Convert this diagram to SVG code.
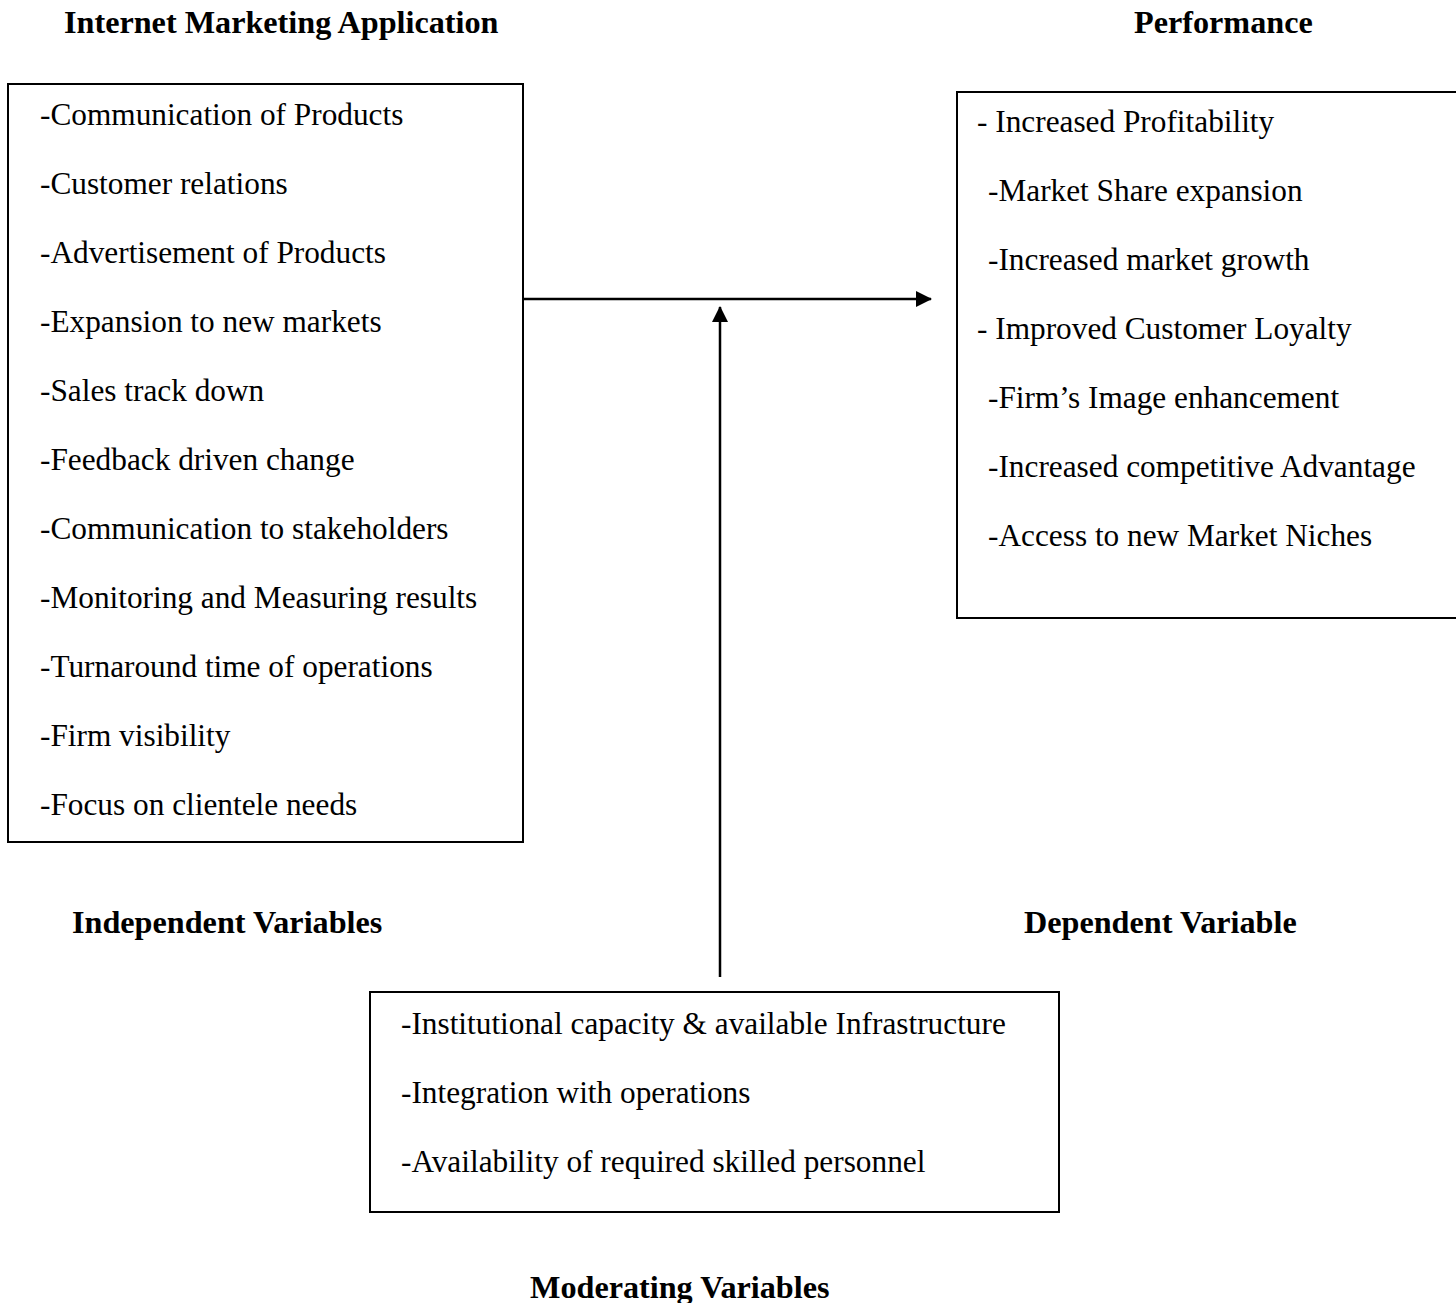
<svg xmlns="http://www.w3.org/2000/svg" width="1456" height="1303" viewBox="0 0 1456 1303">
<style>
.box{fill:#fff;stroke:#000;stroke-width:2}
.t{font-family:"Liberation Serif","Times New Roman",serif;font-size:31.3px;fill:#000}
.h{font-family:"Liberation Serif","Times New Roman",serif;font-size:32.2px;font-weight:bold;fill:#000}
.c{stroke:#000;stroke-width:2.5;fill:none}
</style>
<defs>
<marker id="ah" markerWidth="16" markerHeight="16" refX="15" refY="8" orient="auto" markerUnits="userSpaceOnUse">
<path d="M0,0 L16,8 L0,16 Z" fill="#000"/>
</marker>
</defs>
<rect width="1456" height="1303" fill="#fff"/>
<g id="labels">
<text class="h" x="64" y="33">Internet Marketing Application</text>
<text class="h" x="1134" y="33">Performance</text>
<text class="h" x="72" y="933">Independent Variables</text>
<text class="h" x="1024" y="933">Dependent Variable</text>
<text class="h" x="530" y="1298">Moderating Variables</text>
</g>
<g id="independent">
<rect class="box" x="8" y="84" width="515" height="758"/>
<text class="t" x="40" y="125">-Communication of Products</text>
<text class="t" x="40" y="194">-Customer relations</text>
<text class="t" x="40" y="263">-Advertisement of Products</text>
<text class="t" x="40" y="332">-Expansion to new markets</text>
<text class="t" x="40" y="401">-Sales track down</text>
<text class="t" x="40" y="470">-Feedback driven change</text>
<text class="t" x="40" y="539">-Communication to stakeholders</text>
<text class="t" x="40" y="608">-Monitoring and Measuring results</text>
<text class="t" x="40" y="677">-Turnaround time of operations</text>
<text class="t" x="40" y="746">-Firm visibility</text>
<text class="t" x="40" y="815">-Focus on clientele needs</text>
</g>
<g id="dependent">
<rect class="box" x="957" y="92" width="510" height="526"/>
<text class="t" x="977" y="132">- Increased Profitability</text>
<text class="t" x="988" y="201">-Market Share expansion</text>
<text class="t" x="988" y="270">-Increased market growth</text>
<text class="t" x="977" y="339">- Improved Customer Loyalty</text>
<text class="t" x="988" y="408">-Firm’s Image enhancement</text>
<text class="t" x="988" y="477">-Increased competitive Advantage</text>
<text class="t" x="988" y="546">-Access to new Market Niches</text>
</g>
<g id="moderating">
<rect class="box" x="370" y="992" width="689" height="220"/>
<text class="t" x="401" y="1034">-Institutional capacity &amp; available Infrastructure</text>
<text class="t" x="401" y="1103">-Integration with operations</text>
<text class="t" x="401" y="1172">-Availability of required skilled personnel</text>
</g>
<g id="connectors">
<line class="c" x1="523" y1="299" x2="931" y2="299" marker-end="url(#ah)"/>
<line class="c" x1="720" y1="977" x2="720" y2="307" marker-end="url(#ah)"/>
</g>
</svg>
